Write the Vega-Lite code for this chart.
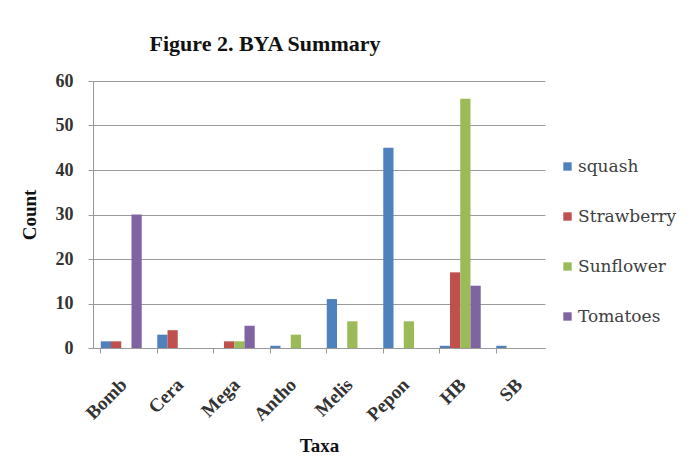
{
  "$schema": "https://vega.github.io/schema/vega-lite/v6.json",
  "width": 452,
  "height": 267,
  "autosize": "none",
  "padding": {"left": 93, "top": 81, "right": 147, "bottom": 114},
  "background": "white",
  "title": {
    "text": "Figure 2. BYA Summary",
    "font": "Liberation Serif",
    "fontSize": 22,
    "fontWeight": "bold",
    "color": "#111111",
    "anchor": "middle",
    "dx": -54,
    "offset": 16
  },
  "data": {
    "values": [
      {"taxa": "Bomb", "crop": "squash", "count": 1.5},
      {"taxa": "Bomb", "crop": "Strawberry", "count": 1.5},
      {"taxa": "Bomb", "crop": "Sunflower", "count": 0},
      {"taxa": "Bomb", "crop": "Tomatoes", "count": 30},
      {"taxa": "Cera", "crop": "squash", "count": 3},
      {"taxa": "Cera", "crop": "Strawberry", "count": 4},
      {"taxa": "Cera", "crop": "Sunflower", "count": 0},
      {"taxa": "Cera", "crop": "Tomatoes", "count": 0},
      {"taxa": "Mega", "crop": "squash", "count": 0},
      {"taxa": "Mega", "crop": "Strawberry", "count": 1.5},
      {"taxa": "Mega", "crop": "Sunflower", "count": 1.5},
      {"taxa": "Mega", "crop": "Tomatoes", "count": 5},
      {"taxa": "Antho", "crop": "squash", "count": 0.5},
      {"taxa": "Antho", "crop": "Strawberry", "count": 0},
      {"taxa": "Antho", "crop": "Sunflower", "count": 3},
      {"taxa": "Antho", "crop": "Tomatoes", "count": 0},
      {"taxa": "Melis", "crop": "squash", "count": 11},
      {"taxa": "Melis", "crop": "Strawberry", "count": 0},
      {"taxa": "Melis", "crop": "Sunflower", "count": 6},
      {"taxa": "Melis", "crop": "Tomatoes", "count": 0},
      {"taxa": "Pepon", "crop": "squash", "count": 45},
      {"taxa": "Pepon", "crop": "Strawberry", "count": 0},
      {"taxa": "Pepon", "crop": "Sunflower", "count": 6},
      {"taxa": "Pepon", "crop": "Tomatoes", "count": 0},
      {"taxa": "HB", "crop": "squash", "count": 0.5},
      {"taxa": "HB", "crop": "Strawberry", "count": 17},
      {"taxa": "HB", "crop": "Sunflower", "count": 56},
      {"taxa": "HB", "crop": "Tomatoes", "count": 14},
      {"taxa": "SB", "crop": "squash", "count": 0.5},
      {"taxa": "SB", "crop": "Strawberry", "count": 0},
      {"taxa": "SB", "crop": "Sunflower", "count": 0},
      {"taxa": "SB", "crop": "Tomatoes", "count": 0}
    ]
  },
  "mark": {"type": "bar"},
  "encoding": {
    "x": {
      "field": "taxa",
      "type": "nominal",
      "sort": ["Bomb", "Cera", "Mega", "Antho", "Melis", "Pepon", "HB", "SB"],
      "scale": {"paddingInner": 0.275, "paddingOuter": 0.1375},
      "axis": {
        "title": "Taxa",
        "titleFont": "Liberation Serif",
        "titleFontSize": 19,
        "titleFontWeight": "bold",
        "titleColor": "#111111",
        "titlePadding": 12,
        "labelFont": "Liberation Serif",
        "labelFontSize": 19,
        "labelFontWeight": "bold",
        "labelColor": "#333333",
        "labelAngle": -45,
        "labelPadding": 22,
        "labelOffset": -4,
        "bandPosition": 0,
        "domainColor": "#999999",
        "tickColor": "#999999",
        "tickSize": 5,
        "grid": false
      }
    },
    "xOffset": {
      "field": "crop",
      "type": "nominal",
      "sort": ["squash", "Strawberry", "Sunflower", "Tomatoes"],
      "scale": {"paddingInner": 0, "paddingOuter": 0}
    },
    "y": {
      "field": "count",
      "type": "quantitative",
      "scale": {"domain": [0, 60]},
      "axis": {
        "title": "Count",
        "titleFont": "Liberation Serif",
        "titleFontSize": 19,
        "titleFontWeight": "bold",
        "titleColor": "#111111",
        "titlePadding": 16,
        "labelFont": "Liberation Serif",
        "labelFontSize": 18,
        "labelFontWeight": "bold",
        "labelColor": "#333333",
        "values": [0, 10, 20, 30, 40, 50, 60],
        "domainColor": "#999999",
        "tickColor": "#999999",
        "tickSize": 5,
        "labelPadding": 15,
        "gridColor": "#999999",
        "gridWidth": 1.2
      }
    },
    "color": {
      "field": "crop",
      "type": "nominal",
      "sort": ["squash", "Strawberry", "Sunflower", "Tomatoes"],
      "scale": {
        "domain": ["squash", "Strawberry", "Sunflower", "Tomatoes"],
        "range": ["#4F81BD", "#C0504D", "#9BBB59", "#8064A2"]
      },
      "legend": {
        "title": null,
        "orient": "none",
        "legendX": 466,
        "legendY": 77,
        "symbolType": "square",
        "symbolSize": 70,
        "symbolStrokeWidth": 0,
        "labelFont": "DejaVu Serif",
        "labelFontSize": 17,
        "labelColor": "#404040",
        "labelOffset": 2,
        "rowPadding": 32,
        "labelLimit": 200
      }
    }
  },
  "config": {
    "font": "Liberation Serif",
    "view": {"stroke": null}
  }
}
